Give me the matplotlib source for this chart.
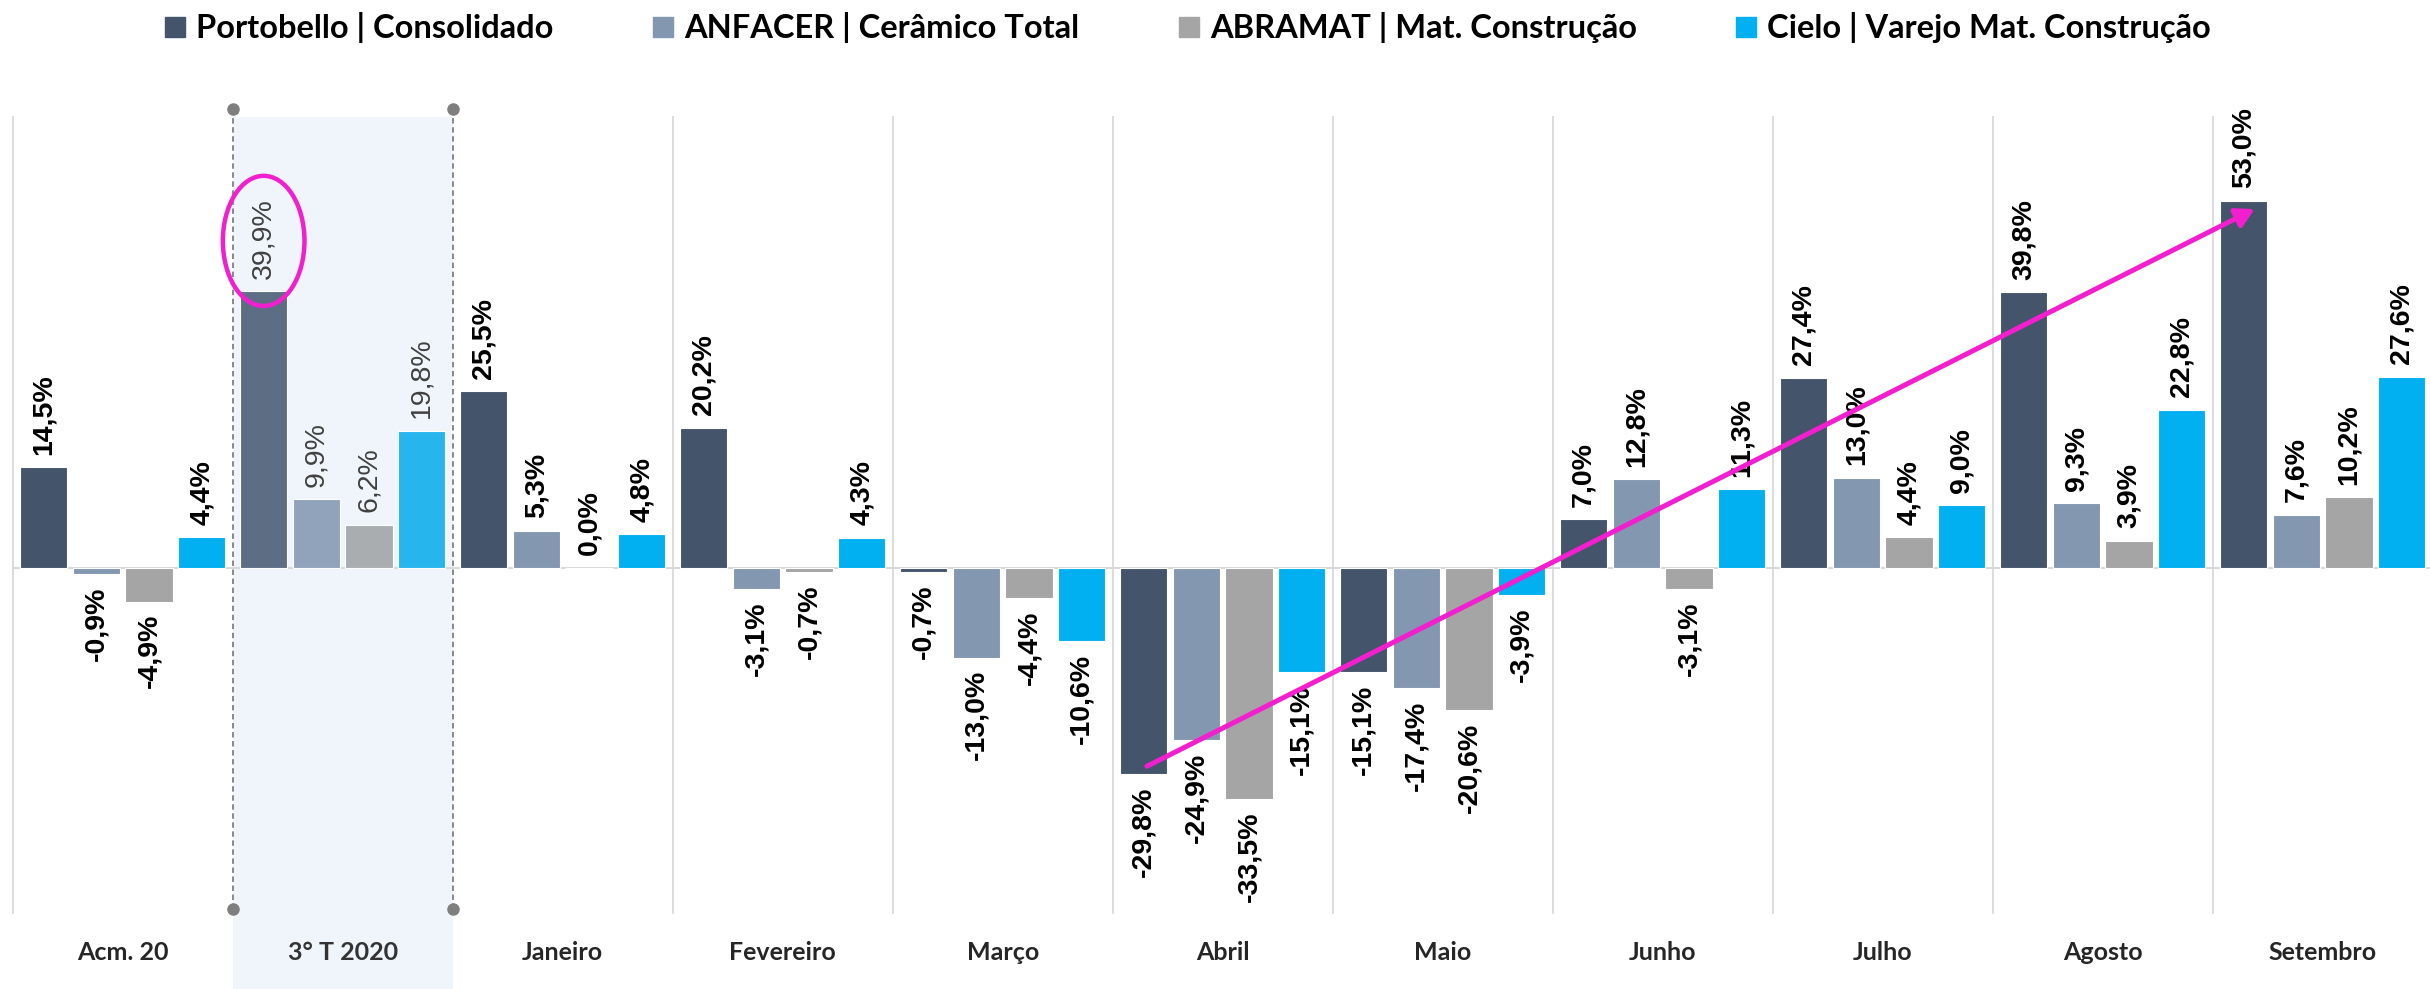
import matplotlib
matplotlib.use("Agg")
import matplotlib.pyplot as plt
from matplotlib.lines import Line2D
from matplotlib.patches import Rectangle, Ellipse
import matplotlib.transforms as mtransforms
import numpy as np

categories = ["Acm. 20", "3° T 2020", "Janeiro", "Fevereiro", "Março", "Abril",
              "Maio", "Junho", "Julho", "Agosto", "Setembro"]
series_names = ["Portobello | Consolidado", "ANFACER | Cerâmico Total",
                "ABRAMAT | Mat. Construção", "Cielo | Varejo Mat. Construção"]
portobello = [14.5, 39.9, 25.5, 20.2, -0.7, -29.8, -15.1, 7.0, 27.4, 39.8, 53.0]
anfacer = [-0.9, 9.9, 5.3, -3.1, -13.0, -24.9, -17.4, 12.8, 13.0, 9.3, 7.6]
abramat = [-4.9, 6.2, 0.0, -0.7, -4.4, -33.5, -20.6, -3.1, 4.4, 3.9, 10.2]
cielo = [4.4, 19.8, 4.8, 4.3, -10.6, -15.1, -3.9, 11.3, 9.0, 22.8, 27.6]
highlight_idx = 1

colors = ["#44546A", "#8497B0", "#A5A5A5", "#00B0F0"]
colors_hl = ["#5D6D84", "#91A3BA", "#AAADB0", "#26B5EC"]
magenta = "#F21FCF"

NARROW = ["Lato", "DejaVu Sans"]
LABEL_FONT = ["Liberation Sans", "DejaVu Sans"]

fig = plt.figure(figsize=(24.3, 9.89), dpi=100)
ax = fig.add_axes([12.7 / 2430, 1 - 913 / 989, 2420 / 2430, (913 - 117) / 989])
ax.set_xlim(-0.5, 10.5)
ax.set_ylim(-49.9, 65.1)
for s in ax.spines.values():
    s.set_visible(False)
ax.set_yticks([])

x = np.arange(len(categories))
pitch = 0.2395
width = 0.2155
all_series = [portobello, anfacer, abramat, cielo]

# highlight shading
trans = mtransforms.blended_transform_factory(ax.transData, ax.transAxes)
ax.add_patch(Rectangle((highlight_idx - 0.5, -0.1), 1.0, 1.1, transform=trans,
                       facecolor="#EFF5FA", edgecolor="none", zorder=0, clip_on=False))

# separators
for b in np.arange(-0.5, 11.0, 1.0):
    if abs(b - (highlight_idx - 0.5)) < 1e-6 or abs(b - (highlight_idx + 0.5)) < 1e-6:
        ax.plot([b, b], [0.005, 1.01], transform=trans, color="#7F7F7F", lw=1.3,
                ls=(0, (3, 2)), zorder=1, clip_on=False)
        ax.plot([b, b], [0.005, 1.01], transform=trans, color="#7F7F7F", lw=0,
                marker="o", markersize=8, zorder=4, clip_on=False)
    else:
        ax.plot([b, b], [0, 1], transform=trans, color="#D9D9D9", lw=1.3, zorder=1,
                clip_on=False)
ax.axhline(0, color="#D9D9D9", lw=1.5, zorder=1)

for k, vals in enumerate(all_series):
    pos = x + (k - 1.5) * pitch
    cols = [colors_hl[k] if i == highlight_idx else colors[k] for i in range(len(x))]
    ax.bar(pos, vals, width=width, color=cols, edgecolor="white", linewidth=0.8,
           zorder=2, label=series_names[k])
    for i, (p, v) in enumerate(zip(pos, vals)):
        txt = f"{v:.1f}%".replace(".", ",")
        hl = i == highlight_idx
        off = 9 if v >= 0 else -9
        ax.annotate(txt, (p, v), xytext=(0, off), textcoords="offset points",
                    rotation=90, ha="center", va="bottom" if v >= 0 else "top",
                    fontsize=20.5, fontweight="normal" if hl else "bold",
                    color="#404040" if hl else "black", family=LABEL_FONT, zorder=5)

# category labels
ax.set_xticks(x)
ax.set_xticklabels(categories, fontsize=18, fontweight="bold", family=NARROW)
ax.tick_params(axis="x", length=0, pad=20)
for lbl, c in zip(ax.get_xticklabels(), categories):
    lbl.set_color("#262626" if c != categories[highlight_idx] else "#333333")

# ellipse around highlighted label
hx = highlight_idx - 1.5 * pitch
ax.add_patch(Ellipse((hx, portobello[highlight_idx] + 7.3), 0.371, 18.8, fill=False,
                     edgecolor=magenta, lw=3.2, zorder=6))

# arrow from April to September Portobello
i0 = categories.index("Abril")
i1 = categories.index("Setembro")
ax.annotate("", xy=(i1 - 1.5 * pitch + 0.05, portobello[i1] - 1.2),
            xytext=(i0 - 1.5 * pitch + 0.015, portobello[i0] + 1.1),
            arrowprops=dict(arrowstyle="-|>,head_length=0.45,head_width=0.25",
                            color=magenta, lw=3.6, mutation_scale=24,
                            shrinkA=0, shrinkB=0), zorder=7)

handles = [Line2D([], [], marker="s", ls="none", markersize=14, color=c) for c in colors]
leg = fig.legend(handles, series_names, loc="center", bbox_to_anchor=(0.4886, 0.972),
                 ncol=4, frameon=False, handlelength=0.7, handletextpad=0.3,
                 columnspacing=3.0, prop={"family": NARROW, "weight": "bold", "size": 23.5})

fig.savefig("out.png", dpi=100)
